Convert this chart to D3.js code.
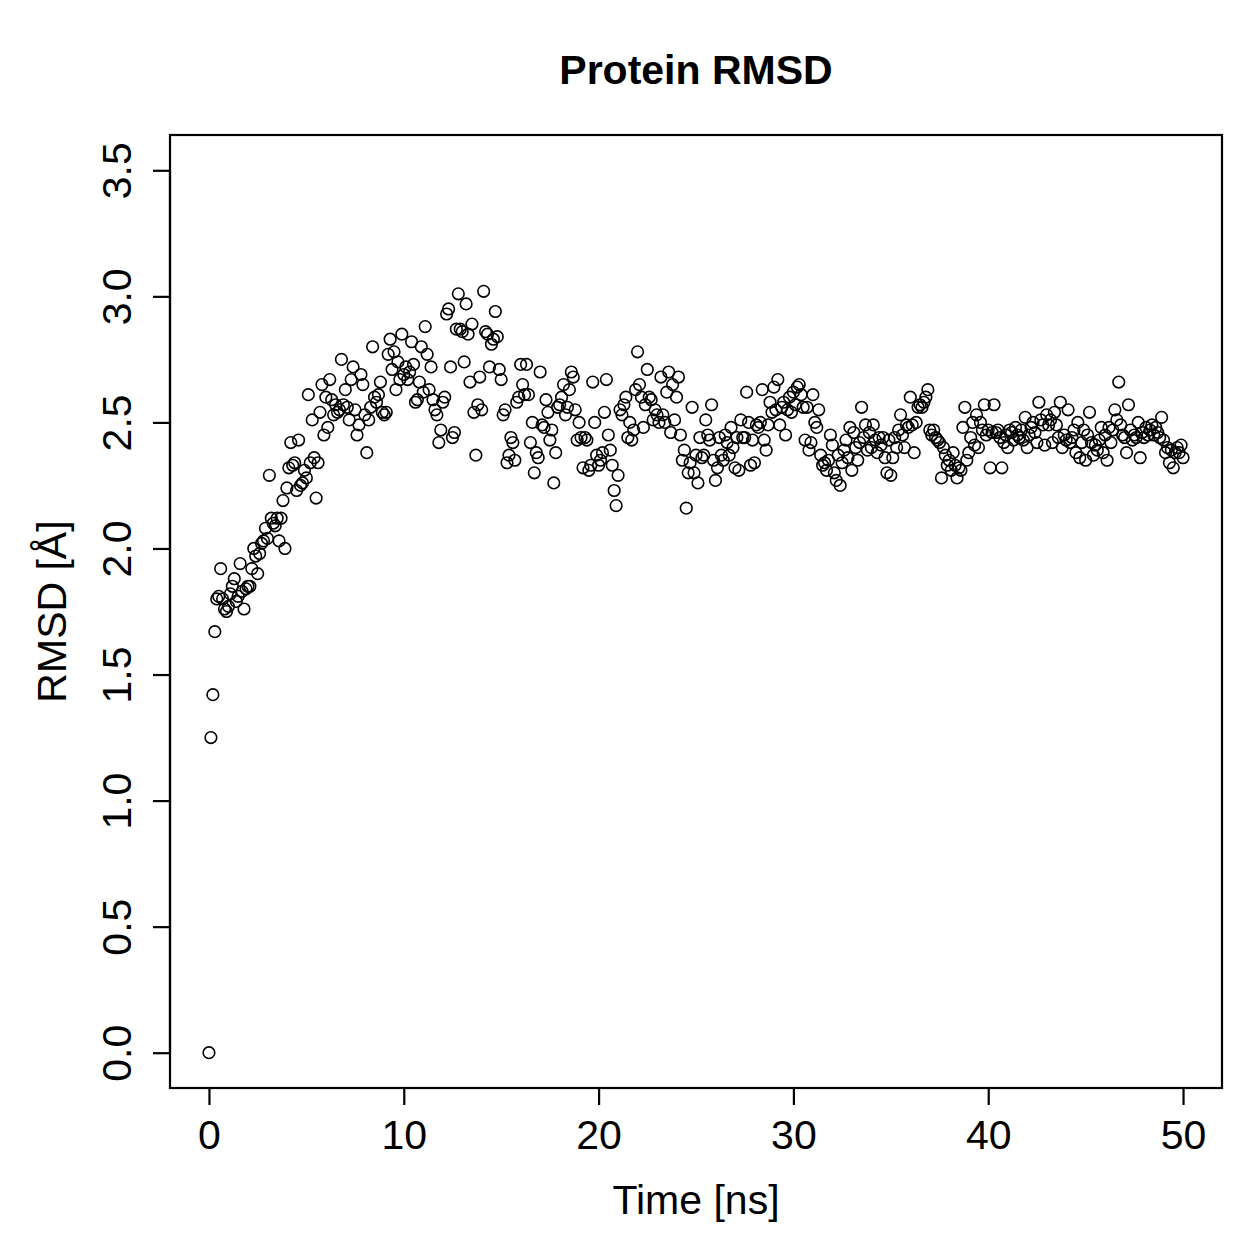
<!DOCTYPE html>
<html>
<head>
<meta charset="utf-8">
<script src="https://cdn.jsdelivr.net/npm/d3@7"></script>
<style>
  html, body { margin: 0; padding: 0; background: #fff; }
  svg { display: block; }
  text { font-family: "Liberation Sans", Arial, Helvetica, sans-serif; fill: #000; }
</style>
</head>
<body>
<svg id="chart" width="1259" height="1259"></svg>
<script>
// ---- data (RMSD in Å, sampled every 0.1 ns from 0 to 50 ns) ----
const timeStep = 0.1;
const rmsd0to10 = [
  0.00, 1.25, 1.42, 1.67, 1.80, 1.81, 1.92, 1.80, 1.76, 1.75,
  1.77, 1.82, 1.85, 1.88, 1.79, 1.81, 1.94, 1.83, 1.76, 1.84,
  1.85, 1.85, 1.92, 2.00, 1.97, 1.90, 1.98, 2.02, 2.03, 2.08,
  2.04, 2.29, 2.12, 2.10, 2.09, 2.12, 2.03, 2.12, 2.19, 2.00,
  2.24, 2.32, 2.42, 2.33, 2.34, 2.23, 2.43, 2.25, 2.26, 2.31,
  2.28, 2.61, 2.34, 2.51, 2.36, 2.20, 2.34, 2.54, 2.65, 2.45,
  2.60, 2.48, 2.67, 2.59, 2.53, 2.57, 2.54, 2.55, 2.75, 2.57,
  2.63, 2.56, 2.51, 2.67, 2.72, 2.55, 2.45, 2.49, 2.69, 2.65,
  2.53, 2.38, 2.51, 2.56, 2.80, 2.60, 2.58, 2.61, 2.66, 2.54,
  2.53, 2.54, 2.77, 2.83, 2.71, 2.78, 2.63, 2.74, 2.67, 2.85
];
const rmsd10to20 = [
  2.69, 2.72, 2.67, 2.70, 2.82, 2.73, 2.58, 2.59, 2.66, 2.80,
  2.62, 2.88, 2.77, 2.63, 2.72, 2.59, 2.55, 2.53, 2.42, 2.47,
  2.58, 2.60, 2.93, 2.95, 2.72, 2.44, 2.46, 2.87, 3.01, 2.87,
  2.86, 2.74, 2.97, 2.85, 2.66, 2.89, 2.54, 2.37, 2.57, 2.68,
  2.55, 3.02, 2.86, 2.85, 2.72, 2.81, 2.83, 2.94, 2.84, 2.71,
  2.67, 2.53, 2.55, 2.34, 2.37, 2.44, 2.42, 2.35, 2.58, 2.60,
  2.73, 2.65, 2.61, 2.73, 2.61, 2.42, 2.50, 2.30, 2.38, 2.36,
  2.70, 2.49, 2.48, 2.59, 2.54, 2.43, 2.47, 2.26, 2.38, 2.56,
  2.57, 2.60, 2.65, 2.53, 2.56, 2.63, 2.70, 2.68, 2.55, 2.43,
  2.50, 2.44, 2.32, 2.44, 2.43, 2.31, 2.33, 2.66, 2.50, 2.37
];
const rmsd20to30 = [
  2.33, 2.35, 2.38, 2.54, 2.67, 2.45, 2.39, 2.33, 2.23, 2.17,
  2.29, 2.55, 2.53, 2.57, 2.60, 2.44, 2.50, 2.43, 2.47, 2.63,
  2.78, 2.65, 2.60, 2.48, 2.57, 2.71, 2.60, 2.59, 2.51, 2.55,
  2.53, 2.50, 2.68, 2.53, 2.50, 2.62, 2.70, 2.46, 2.65, 2.51,
  2.60, 2.68, 2.45, 2.35, 2.39, 2.16, 2.30, 2.34, 2.56, 2.30,
  2.37, 2.26, 2.44, 2.36, 2.37, 2.51, 2.45, 2.43, 2.57, 2.35,
  2.27, 2.32, 2.44, 2.37, 2.35, 2.45, 2.42, 2.37, 2.48, 2.40,
  2.32, 2.44, 2.31, 2.51, 2.44, 2.44, 2.62, 2.50, 2.33, 2.43,
  2.34, 2.49, 2.48, 2.50, 2.63, 2.43, 2.39, 2.49, 2.58, 2.54,
  2.64, 2.55, 2.67, 2.49, 2.56, 2.58, 2.45, 2.55, 2.60, 2.54
];
const rmsd30to40 = [
  2.62, 2.57, 2.64, 2.65, 2.61, 2.56, 2.43, 2.56, 2.39, 2.42,
  2.61, 2.50, 2.48, 2.55, 2.37, 2.33, 2.34, 2.31, 2.35, 2.45,
  2.41, 2.30, 2.27, 2.37, 2.25, 2.34, 2.39, 2.43, 2.36, 2.48,
  2.31, 2.46, 2.40, 2.35, 2.42, 2.56, 2.44, 2.49, 2.39, 2.46,
  2.40, 2.49, 2.43, 2.38, 2.44, 2.41, 2.44, 2.36, 2.30, 2.43,
  2.29, 2.36, 2.44, 2.40, 2.47, 2.53, 2.45, 2.40, 2.49, 2.48,
  2.60, 2.49, 2.38, 2.50, 2.56, 2.57, 2.56, 2.58, 2.60, 2.63,
  2.47, 2.45, 2.47, 2.44, 2.43, 2.42, 2.28, 2.40, 2.37, 2.33,
  2.35, 2.31, 2.38, 2.33, 2.28, 2.32, 2.31, 2.48, 2.56, 2.35,
  2.38, 2.44, 2.50, 2.41, 2.53, 2.40, 2.50, 2.47, 2.57, 2.45
];
const rmsd40to50 = [
  2.47, 2.32, 2.46, 2.57, 2.46, 2.47, 2.44, 2.32, 2.42, 2.45,
  2.40, 2.47, 2.46, 2.43, 2.48, 2.45, 2.44, 2.47, 2.43, 2.52,
  2.40, 2.45, 2.48, 2.50, 2.46, 2.42, 2.58, 2.51, 2.49, 2.41,
  2.53, 2.49, 2.51, 2.42, 2.54, 2.49, 2.44, 2.58, 2.40, 2.45,
  2.43, 2.55, 2.42, 2.44, 2.47, 2.38, 2.50, 2.36, 2.42, 2.47,
  2.35, 2.45, 2.54, 2.42, 2.37, 2.41, 2.39, 2.43, 2.48, 2.38,
  2.45, 2.35, 2.48, 2.42, 2.47, 2.55, 2.51, 2.66, 2.49, 2.45,
  2.44, 2.38, 2.57, 2.47, 2.43, 2.45, 2.44, 2.50, 2.36, 2.46,
  2.44, 2.48, 2.45, 2.47, 2.49, 2.45, 2.48, 2.46, 2.44, 2.52,
  2.43, 2.38, 2.40, 2.34, 2.39, 2.32, 2.38, 2.40, 2.38, 2.41,
  2.36
];
const xTicks = [0, 10, 20, 30, 40, 50];
const yTicks = [0.0, 0.5, 1.0, 1.5, 2.0, 2.5, 3.0, 3.5];
const titleText = "Protein RMSD";
const xLabel = "Time [ns]";
const yLabel = "RMSD [Å]";

const rmsd = [].concat(rmsd0to10, rmsd10to20, rmsd20to30, rmsd30to40, rmsd40to50);
const data = rmsd.map((v, i) => ({ t: Math.round(i * timeStep * 10) / 10, v }));

// ---- layout ----
const svg = d3.select("#chart");
const plot = { left: 170, right: 1222, top: 135, bottom: 1088 };
const xlim = [0, 50], ylim = [0, 3.5];
const xpad = (xlim[1] - xlim[0]) * 0.04, ypad = (ylim[1] - ylim[0]) * 0.04;

const x = d3.scaleLinear().domain([xlim[0] - xpad, xlim[1] + xpad]).range([plot.left, plot.right]);
const y = d3.scaleLinear().domain([ylim[0] - ypad, ylim[1] + ypad]).range([plot.bottom, plot.top]);

const fs = 41;

// points
svg.append("g").selectAll("circle").data(data).enter().append("circle")
  .attr("cx", d => x(d.t)).attr("cy", d => y(d.v)).attr("r", 5.8)
  .attr("fill", "none").attr("stroke", "#000").attr("stroke-width", 1.6);

// box
svg.append("rect")
  .attr("x", plot.left).attr("y", plot.top)
  .attr("width", plot.right - plot.left).attr("height", plot.bottom - plot.top)
  .attr("fill", "none").attr("stroke", "#000").attr("stroke-width", 2.2);

// x axis
const xAxis = d3.axisBottom(x).tickValues(xTicks).tickSize(17).tickPadding(15).tickFormat(d3.format("d"));
const gx = svg.append("g").attr("transform", `translate(0,${plot.bottom})`).call(xAxis);
gx.select(".domain").attr("d", `M${x(xTicks[0])},0H${x(xTicks[xTicks.length - 1])}`).attr("stroke-width", 2.2);
gx.selectAll(".tick line").attr("stroke-width", 2.2);
gx.selectAll(".tick text").attr("font-size", fs).attr("font-family", null).attr("fill", "#000");

// y axis
const yAxis = d3.axisLeft(y).tickValues(yTicks).tickSize(17).tickPadding(0).tickFormat(d3.format(".1f"));
const gy = svg.append("g").attr("transform", `translate(${plot.left},0)`).call(yAxis);
gy.select(".domain").attr("d", `M0,${y(yTicks[0])}V${y(yTicks[yTicks.length - 1])}`).attr("stroke-width", 2.2);
gy.selectAll(".tick line").attr("stroke-width", 2.2);
gy.selectAll(".tick text")
  .attr("font-size", fs).attr("font-family", null).attr("fill", "#000")
  .attr("x", null).attr("dy", null)
  .attr("text-anchor", "middle")
  .attr("transform", "translate(-39,0) rotate(-90)");

// title & labels
svg.append("text").attr("x", (plot.left + plot.right) / 2).attr("y", 84)
  .attr("text-anchor", "middle").attr("font-size", 41).attr("font-weight", "bold").text(titleText);
svg.append("text").attr("x", (plot.left + plot.right) / 2).attr("y", 1214)
  .attr("text-anchor", "middle").attr("font-size", fs).text(xLabel);
svg.append("text").attr("transform", `translate(66,${(plot.top + plot.bottom) / 2}) rotate(-90)`)
  .attr("text-anchor", "middle").attr("font-size", fs).text(yLabel);
</script>
</body>
</html>
